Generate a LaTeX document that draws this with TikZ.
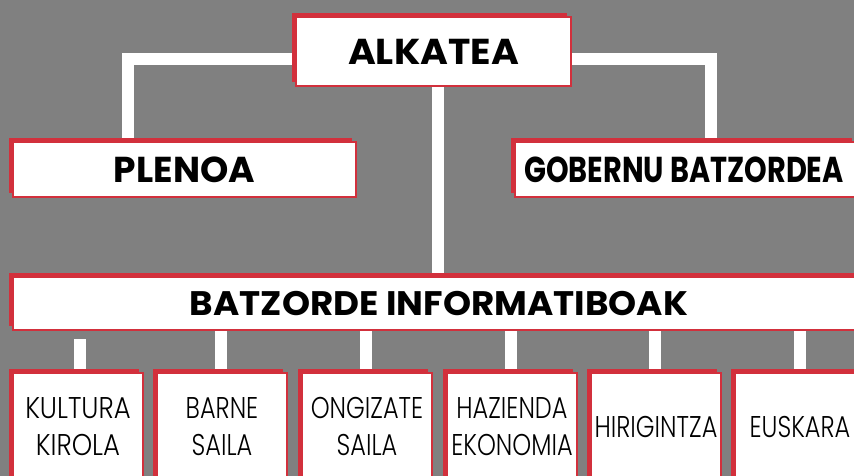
\documentclass[tikz,border=0pt]{standalone}
\usepackage{fontspec}
\setmainfont{Poppins}
\newfontfamily\headfont{Poppins}
\newfontfamily\thinfont[FakeStretch=0.8]{Poppins Light}
\usetikzlibrary{shadows,calc}
\definecolor{bggray}{HTML}{808080}
\definecolor{boxred}{HTML}{D2303C}
\tikzset{
  orgbox/.style={fill=white, draw=boxred, line width=1.2pt, inner sep=0pt,
    copy shadow={shadow xshift=-4pt, shadow yshift=4pt, fill=boxred, draw=none}},
  headbox/.style={orgbox, font=\headfont\bfseries\fontsize{36}{40}\selectfont},
  deptbox/.style={orgbox, minimum width=130pt, minimum height=107pt, align=center,
    font=\thinfont\fontsize{30}{37}\selectfont},
  conn/.style={draw=white, line width=12pt}
}
\begin{document}
\begin{tikzpicture}[x=1pt,y=-1pt]
\fill[bggray] (0,0) rectangle (854,476);
\useasboundingbox (0,0) rectangle (854,476);
% connectors (drawn first, under the boxes)
\coordinate (alkL) at (296,59.5);
\coordinate (alkR) at (571,59.5);
\coordinate (plenTop) at (128,142);
\coordinate (gobTop) at (711,142);
\coordinate (alkB) at (438,86);
\coordinate (batzTop) at (438,277);
\draw[conn] (alkL) -| (plenTop);
\draw[conn] (alkR) -| (gobTop);
\draw[conn] (alkB) -- (batzTop);
\coordinate (c1t) at (80,339);   \coordinate (c1b) at (80,373);
\coordinate (c2t) at (221,330);  \coordinate (c2b) at (221,373);
\coordinate (c3t) at (366,330);  \coordinate (c3b) at (366,373);
\coordinate (c4t) at (511,330);  \coordinate (c4b) at (511,373);
\coordinate (c5t) at (655,330);  \coordinate (c5b) at (655,373);
\coordinate (c6t) at (800,330);  \coordinate (c6b) at (800,373);
\foreach \i in {1,...,6}{\draw[conn] (c\i t) -- (c\i b);}
% boxes
\node[headbox, minimum width=275pt, minimum height=69pt] (alk) at (433.5,51.5) {\scalebox{1.05}[1]{ALKATEA}};
\node[headbox, minimum width=343pt, minimum height=55pt] (plen) at (184.5,169.5) {PLENOA};
\node[headbox, minimum width=341pt, minimum height=55pt] (gob) at (685.5,169.5) {\hspace*{-3pt}\scalebox{0.8}[1]{GOBERNU BATZORDEA}};
\node[headbox, minimum width=852pt, minimum height=53pt] (batz) at (439,303.5)
  {\fontsize{34}{38}\selectfont\scalebox{1.05}[1]{BATZORDE INFORMATIBOAK}};
\node[deptbox] (d1) at (78,426.5) {\scalebox{1.08}[1]{KULTURA}\\\scalebox{1.08}[1]{KIROLA}};
\node[deptbox] (d2) at (222,426.5) {BARNE\\SAILA};
\node[deptbox] (d3) at (367,426.5) {ONGIZATE\\SAILA};
\node[deptbox] (d4) at (512,426.5) {HAZIENDA\\EKONOMIA};
\node[deptbox] (d5) at (656,426.5) {HIRIGINTZA};
\node[deptbox] (d6) at (800,426.5) {EUSKARA};
\end{tikzpicture}
\end{document}
